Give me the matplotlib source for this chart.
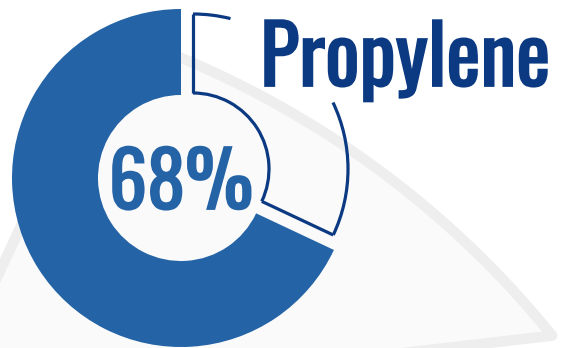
import numpy as np
import matplotlib
matplotlib.use("Agg")
import matplotlib.pyplot as plt
import matplotlib.patheffects as pe
from matplotlib.patches import Wedge, Arc, Polygon

label = "Propylene"
shares = [68, 32]  # highlighted share, remainder

BLUE = "#2363a6"
NAVY = "#0c3a82"
FONT = ["Oswald", "DejaVu Sans"]

W, H = 565, 348
fig = plt.figure(figsize=(W / 100, H / 100), dpi=100)
ax = fig.add_axes([0, 0, 1, 1])
ax.set_xlim(0, W)
ax.set_ylim(0, H)
ax.set_aspect("equal")
ax.axis("off")

# faint backdrop: a big curved sail shape with a light grey rim
bg_c = np.array([-183, -583])
bg_r = 946
t = np.radians(np.linspace(71.9, 39, 80))
arc_pts = np.column_stack([bg_c[0] + bg_r * np.cos(t), bg_c[1] + bg_r * np.sin(t)])
sail = np.vstack([arc_pts, [[-63, -59]]])
ax.add_patch(Polygon(sail, closed=True, facecolor="#fafafa", edgecolor="#eeeeee",
                     lw=7.5, joinstyle="round", zorder=0))

# main donut slice
center = (181, 170)
r_out, r_in = 169, 83
frac = shares[0] / sum(shares)
end = 90 + 360 * frac
ax.add_patch(Wedge(center, r_out, 90, end, width=r_out - r_in,
                   facecolor=BLUE, edgecolor="none", zorder=2))

# remaining slice as a pulled-out outline
oc = (193, 179)
o_out, o_in = 155, 76
a0, a1 = end - 360, 90
lw = 2.3
ax.add_patch(Arc(oc, 2 * o_in, 2 * o_in, theta1=a0, theta2=a1, color=NAVY, lw=lw, zorder=3))
for t1, t2 in [(a0, 25.4), (76, a1)]:
    ax.add_patch(Arc(oc, 2 * o_out, 2 * o_out, theta1=t1, theta2=t2, color=NAVY, lw=lw, zorder=3))
for a in (a0, a1):
    ca, sa = np.cos(np.radians(a)), np.sin(np.radians(a))
    ax.plot([oc[0] + o_in * ca, oc[0] + o_out * ca], [oc[1] + o_in * sa, oc[1] + o_out * sa],
            color=NAVY, lw=lw, solid_capstyle="butt", zorder=3)


def heavy(color):
    # thicken the condensed face a little
    return [pe.withStroke(linewidth=1.3, foreground=color, joinstyle="miter")]


ax.text(center[0], 139, f"{shares[0]}%", ha="center", va="baseline",
        fontsize=55, color=BLUE, family=FONT, zorder=4, path_effects=heavy(BLUE))
ax.text(260, 262, label, ha="left", va="baseline",
        fontsize=58.5, color=NAVY, family=FONT, zorder=4, path_effects=heavy(NAVY))

fig.savefig("out.png", dpi=100, facecolor="white")
